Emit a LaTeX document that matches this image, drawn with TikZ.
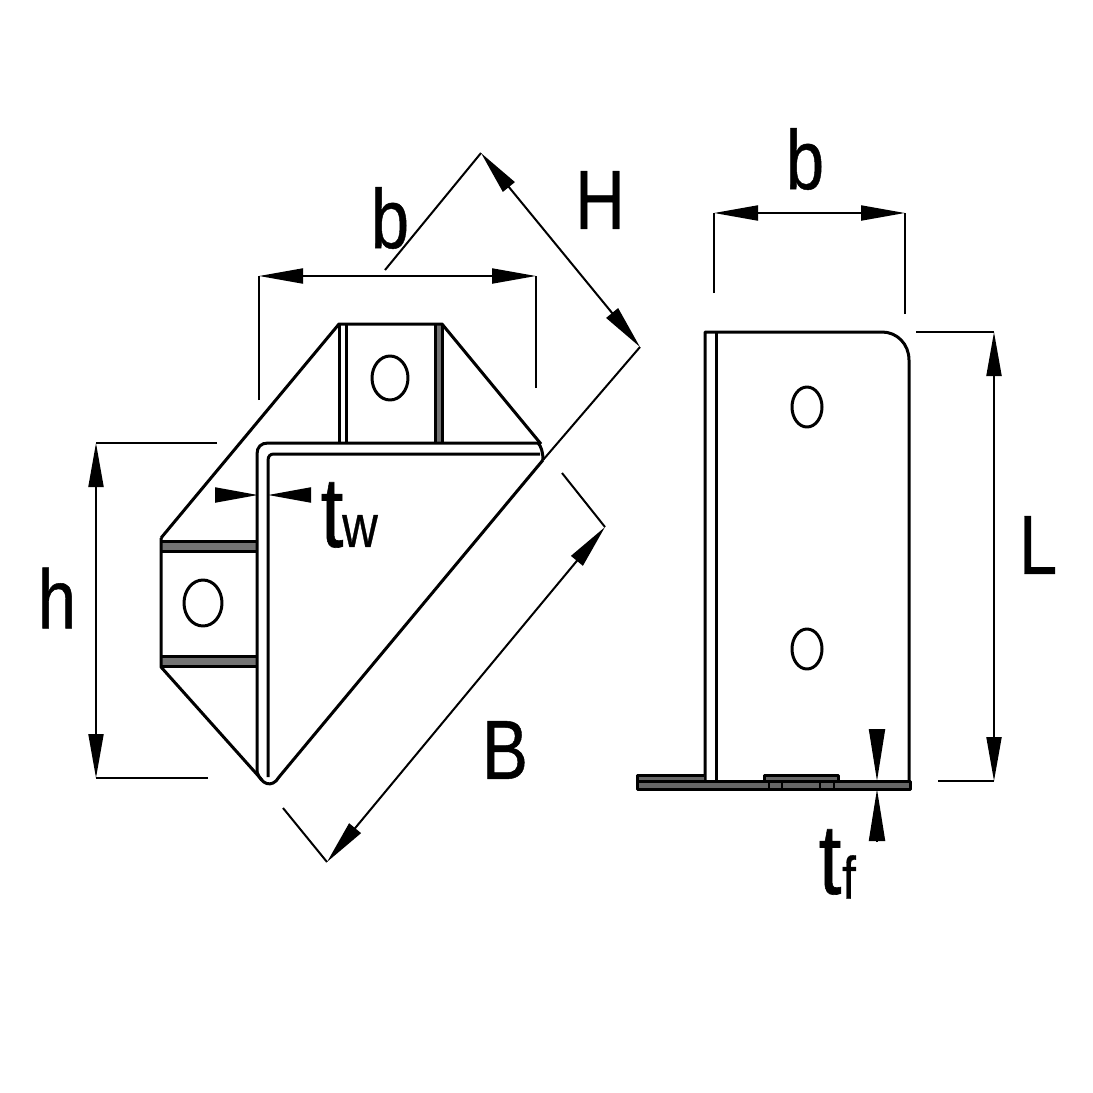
\documentclass[tikz,border=0pt]{standalone}
\usepackage{fontspec}
\setmainfont{Liberation Sans}
\newfontfamily\labfont[FakeBold=0.6]{Liberation Sans}
\usetikzlibrary{arrows.meta}
\tikzset{
  part/.style={draw=black,line width=3pt,line join=round},
  thin part/.style={draw=black,line width=2pt},
  extline/.style={draw=black,line width=2pt},
  dimline/.style={draw=black,line width=2pt,{Triangle[length=44pt,width=15pt]}-{Triangle[length=44pt,width=15pt]}},
  tipin/.style={draw=black,line width=2pt,-{Triangle[length=43pt,width=15pt]}},
  tipf/.style={draw=black,line width=2pt,-{Triangle[length=52pt,width=16pt]}},
  lab/.style={inner sep=0pt,font=\labfont\fontsize{84pt}{84pt}\selectfont,xscale=.82,text=black},
  tlab/.style={inner sep=0pt,font=\labfont\fontsize{100pt}{100pt}\selectfont,xscale=.82,text=black},
  sub/.style={inner sep=0pt,font=\labfont\fontsize{60pt}{60pt}\selectfont,xscale=.82,text=black}
}
\begin{document}
\begin{tikzpicture}[x=1pt,y=-1pt]
\useasboundingbox (0,0) rectangle (1093,1093);
\fill[white] (0,0) rectangle (1093,1093);
% ---- left view, fills
\fill[black!55] (161,541) rectangle (257,551) (161,656) rectangle (257,666) (436,324) rectangle (442,443);
% ---- left view, outline
\draw[part] (161,538) -- (339,324) -- (442,324) -- (541,444);
\draw[part] (161,538) -- (161,667) -- (262,780);
\draw[part] (339,324) -- (339,443) (346,324) -- (346,443);
\draw[part] (435,324) -- (435,443) (442,324) -- (442,443);
\draw[part] (161,541) -- (257,541) (161,551) -- (257,551);
\draw[part] (161,656) -- (257,656) (161,666) -- (257,666);
% bent web and flange
\draw[part] (257,772) -- (257,454) .. controls (257,447) and (261,443) .. (268,443) -- (538,443) .. controls (541,446) and (543,452) .. (543,460);
\draw[part] (268,777) -- (268,461) .. controls (268,456) and (270,454) .. (274,454) -- (540,454);
\draw[part] (257,772) .. controls (261,784) and (272,789) .. (279,777) -- (543,460);
% holes
\draw[part] (390,378) ellipse[x radius=18,y radius=22];
\draw[part] (203,603) ellipse[x radius=19,y radius=23];
% ---- right view
\draw[part] (705,781) -- (705,332) -- (882,332) .. controls (897,332) and (909,344) .. (909,360) -- (909,781);
\draw[part] (716,781) -- (716,332);
\draw[part] (807,407) ellipse[x radius=15,y radius=20];
\draw[part] (807,649) ellipse[x radius=15,y radius=20];
% base plate
\fill[black!60] (637,781) rectangle (910,789) (637,775) rectangle (704,781) (764,775) rectangle (838,781);
\draw[part] (637,781) rectangle (910,789);
\draw[part] (637,781) -- (637,775) -- (704,775);
\draw[part] (764,781) -- (764,775) -- (838,775) -- (838,781);
\draw[thin part] (769,781) -- (769,789) (782,781) -- (782,789) (820,781) -- (820,789) (834,781) -- (834,789);
% ---- dimensions, left view
\coordinate (hT) at (96,443); \coordinate (hB) at (96,778);
\coordinate (hTe) at (217,443); \coordinate (hBe) at (208,778);
\draw[extline] (hTe) -- (hT) (hBe) -- (hB);
\draw[dimline] (hT) -- (hB);
\coordinate (bL) at (259,276); \coordinate (bR) at (536,276);
\coordinate (bLe) at (259,400); \coordinate (bRe) at (536,388);
\draw[extline] (bLe) -- (bL) (bRe) -- (bR);
\draw[dimline] (bL) -- (bR);
\coordinate (HA) at (481,153); \coordinate (HB) at (640,347);
\coordinate (HAe) at (385,270); \coordinate (HBe) at (543,460);
\draw[extline] (HAe) -- (HA) (HBe) -- (HB);
\draw[dimline] (HA) -- (HB);
\coordinate (BA) at (605,527); \coordinate (BB) at (327,862);
\coordinate (BAe) at (562,473); \coordinate (BBe) at (283,808);
\draw[extline] (BAe) -- (BA) (BBe) -- (BB);
\draw[dimline] (BA) -- (BB);
\coordinate (twL) at (215,495); \coordinate (twLt) at (258,495);
\coordinate (twR) at (310,495); \coordinate (twRt) at (268,495);
\draw[tipin] (twL) -- (twLt);
\draw[tipin] (twR) -- (twRt);
% ---- dimensions, right view
\coordinate (b2L) at (714,213); \coordinate (b2R) at (905,213);
\coordinate (b2Le) at (714,293); \coordinate (b2Re) at (905,314);
\draw[extline] (b2Le) -- (b2L) (b2Re) -- (b2R);
\draw[dimline] (b2L) -- (b2R);
\coordinate (LT) at (994,332); \coordinate (LB) at (994,781);
\coordinate (LTe) at (916,332); \coordinate (LBe) at (938,781);
\draw[extline] (LTe) -- (LT) (LBe) -- (LB);
\draw[dimline] (LT) -- (LB);
\coordinate (tfA) at (877,729); \coordinate (tfAt) at (877,781);
\coordinate (tfB) at (877,842); \coordinate (tfBt) at (877,789);
\draw[tipf] (tfA) -- (tfAt);
\draw[tipf] (tfB) -- (tfBt);
% ---- labels
\node[lab] (lb1) at (390,218) {b};
\node[lab] (lH) at (600,200) {H};
\node[lab] (lh) at (57,598) {h};
\node[lab] (lL) at (1038,545) {L};
\node[lab] (lB) at (505,750) {B};
\node[lab] (lb2) at (805,159) {b};
\node[tlab] (lt1) at (332,515) {t};
\node[sub] (lw) at (360,531) {w};
\node[tlab] (lt2) at (830,862) {t};
\node[sub] (lf) at (849,877) {f};
\end{tikzpicture}
\end{document}
